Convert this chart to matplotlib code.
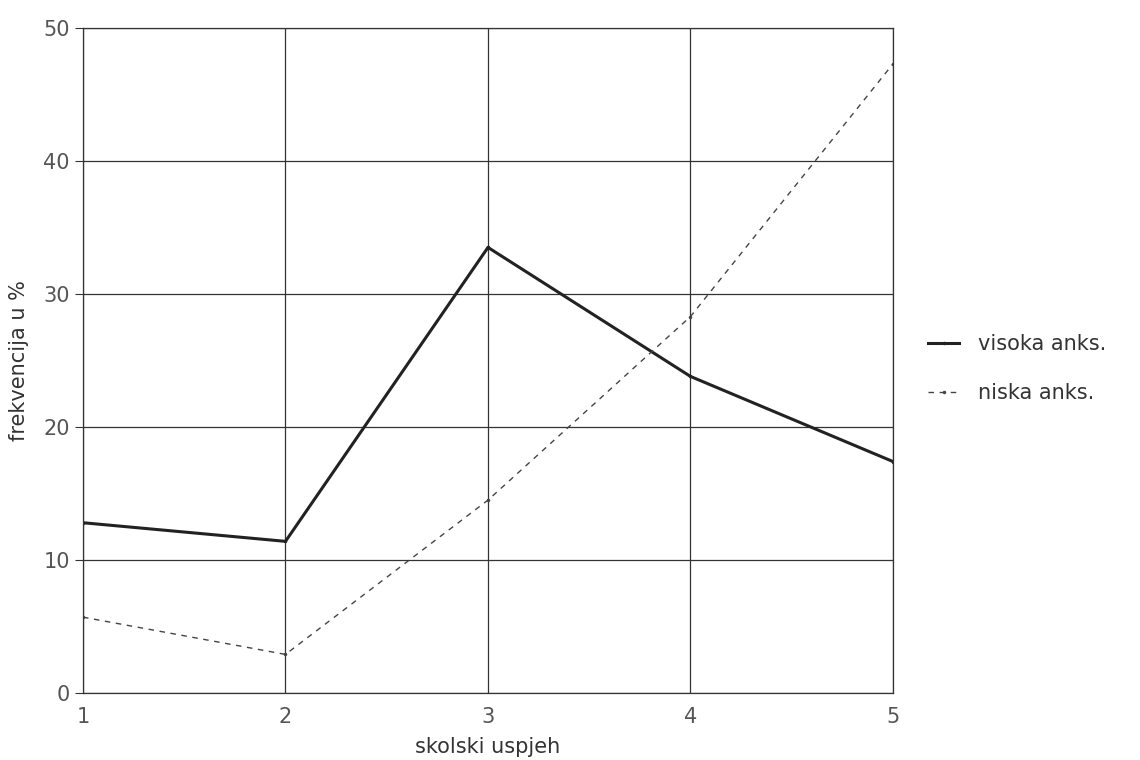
import matplotlib
matplotlib.use("Agg")
import matplotlib.pyplot as plt

uspjeh = [1, 2, 3, 4, 5]
visoka = [12.8, 11.4, 33.5, 23.8, 17.4]
niska = [5.7, 2.9, 14.5, 28.3, 47.3]
yticks = [0, 10, 20, 30, 40, 50]

plt.rcParams['font.family'] = ['DejaVu Sans']
txt = '#333333'

fig = plt.figure(figsize=(11.4, 7.6), dpi=100)
ax = fig.add_axes([0.0728, 0.0882, 0.7105, 0.875])

ax.plot(uspjeh, visoka, color='#222222', lw=2.2, marker='.', ms=3, label='visoka anks.')
ax.plot(uspjeh, niska, color='#444444', lw=1.0, ls=(0, (4, 4)), marker='.', ms=3, label='niska anks.')

ax.set_xlim(1, 5)
ax.set_ylim(0, 50)
ax.set_xticks(uspjeh)
ax.set_yticks(yticks)
ax.grid(True, color='#333333', lw=0.9)
for s in ax.spines.values():
    s.set_color('#333333')
    s.set_linewidth(0.9)
ax.tick_params(axis='y', length=6, color='#333333', labelsize=15, labelcolor='#555555')
ax.tick_params(axis='x', length=0, pad=10, labelsize=15, labelcolor='#555555')

ax.set_xlabel('skolski uspjeh', fontsize=15, color=txt, labelpad=7)
ax.set_ylabel('frekvencija u %', fontsize=15, color=txt, labelpad=10)

leg = ax.legend(loc='center left', bbox_to_anchor=(1.02, 0.488), frameon=False,
                fontsize=15, handlelength=1.5, labelspacing=1.4, handletextpad=0.9)
for t in leg.get_texts():
    t.set_color(txt)

fig.savefig('out.png', dpi=100)
